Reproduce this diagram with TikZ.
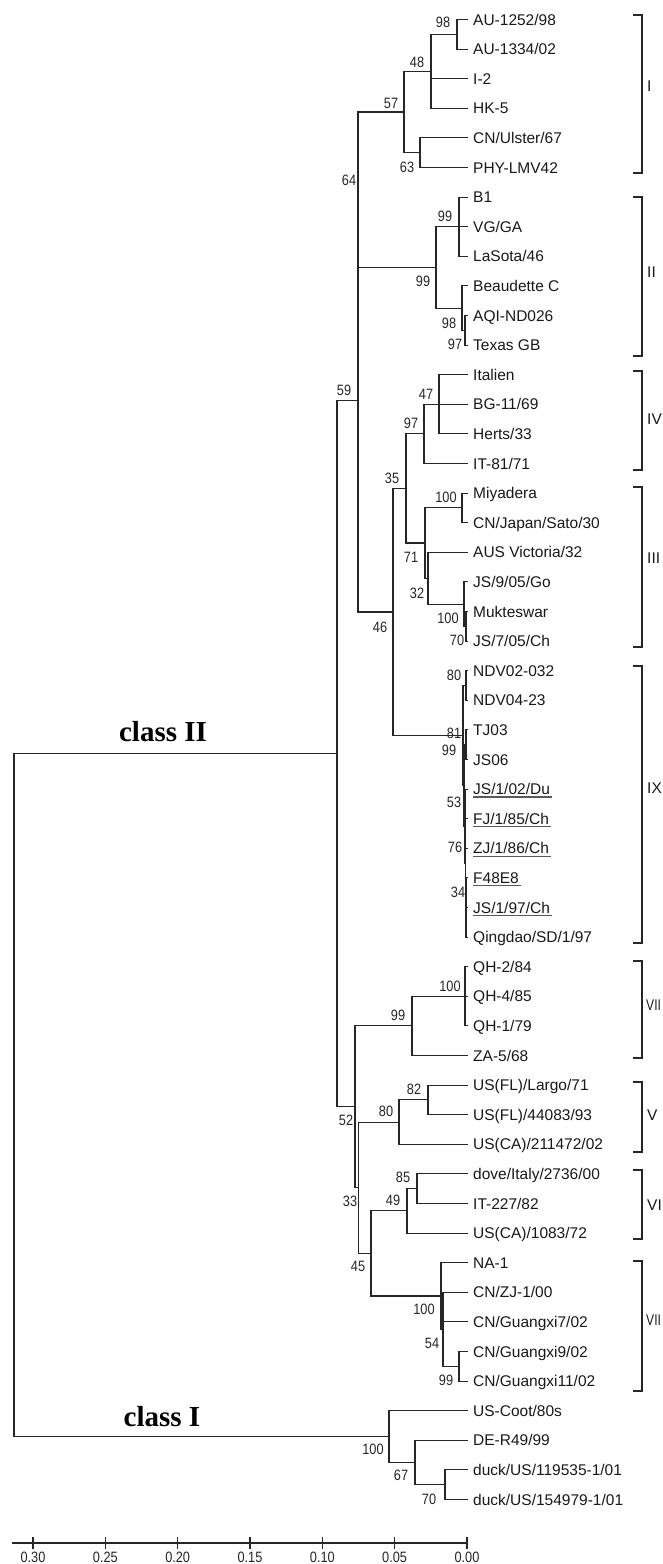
\documentclass[tikz,border=0pt]{standalone}
\usepackage{fontspec}
\setmainfont{Liberation Sans}
\newfontfamily\bsfont[FakeStretch=0.85]{Liberation Sans}
\newfontfamily\nrfont[FakeStretch=0.78]{Liberation Sans}
\newfontfamily\clsfont{Liberation Serif}
\tikzset{
 br/.style={draw=black!85, line width=1.15pt, line cap=rect},
 leaf/.style={anchor=base west, inner sep=0pt, font=\fontsize{15.5}{18}\selectfont, text=black!90},
 bs/.style={inner sep=0pt, font=\bsfont\fontsize{15}{18}\selectfont, text=black!85},
 grp/.style={anchor=west, inner sep=0pt, font=\fontsize{15.5}{18}\selectfont, text=black!90},
 grpn/.style={anchor=west, inner sep=0pt, font=\nrfont\fontsize{15.5}{18}\selectfont, text=black!90},
 brk/.style={draw=black!85, line width=1.15pt},
 cls/.style={inner sep=0pt, font=\clsfont\bfseries\fontsize{29}{32}\selectfont},
 uline/.style={draw=black!65, line width=1.1pt},
}
\newcommand\clade[4]{\draw[br] (#1|-#2) -- (#1|-#3);\foreach \c in {#4}{\draw[br] (#1|-\c) -- (\c);}}
\begin{document}
\begin{tikzpicture}[x=1pt,y=-1pt]
\useasboundingbox (0,0) rectangle (662,1564);
\clip (0,0) rectangle (662,1564);
\fill[white] (0,0) rectangle (662,1564);
% leaves
\foreach \n [count=\i from 0] in {AU-1252/98,AU-1334/02,I-2,HK-5,CN/Ulster/67,PHY-LMV42,B1,VG/GA,LaSota/46,Beaudette C,AQI-ND026,Texas GB,Italien,BG-11/69,Herts/33,IT-81/71,Miyadera,CN/Japan/Sato/30,AUS Victoria/32,JS/9/05/Go,Mukteswar,JS/7/05/Ch,NDV02-032,NDV04-23,TJ03,JS06,JS/1/02/Du,FJ/1/85/Ch,ZJ/1/86/Ch,F48E8,JS/1/97/Ch,Qingdao/SD/1/97,QH-2/84,QH-4/85,QH-1/79,ZA-5/68,US(FL)/Largo/71,US(FL)/44083/93,US(CA)/211472/02,dove/Italy/2736/00,IT-227/82,US(CA)/1083/72,NA-1,CN/ZJ-1/00,CN/Guangxi7/02,CN/Guangxi9/02,CN/Guangxi11/02,US-Coot/80s,DE-R49/99,duck/US/119535-1/01,duck/US/154979-1/01}{
  \coordinate (T\i) at (467,{19.5+29.6*\i});
  \node[leaf] (L\i) at (473,{25+29.6*\i}) {\n};
}
\foreach \i in {26,...,30}{\draw[uline] ([yshift=-2.4pt]L\i.base west) -- ([yshift=-2.4pt,xshift=1.5pt]L\i.base east);}
% internal nodes
\coordinate (nA) at (457,34.3);
\coordinate (nB) at (431,71.3);
\coordinate (nC) at (420,152.7);
\coordinate (nD) at (404,112);
\coordinate (nE) at (459,226.7);
\coordinate (nF) at (465,330.3);
\coordinate (nG) at (462,308.1);
\coordinate (nH) at (436,267.4);
\coordinate (nI) at (358,189.7);
\coordinate (nJ) at (439,404.3);
\coordinate (nK) at (424,433.9);
\coordinate (nL) at (462,507.9);
\coordinate (nM) at (466,626.3);
\coordinate (nN) at (464,604.1);
\coordinate (nO) at (428,578.2);
\coordinate (nP) at (425,543.05);
\coordinate (nQ) at (406,488.5);
\coordinate (nR) at (466,685.5);
\coordinate (nS) at (466,744.7);
\coordinate (nT) at (466,907.5);
\coordinate (nU) at (465.5,863.1);
\coordinate (nV) at (465,826.1);
\coordinate (nW) at (464,785.4);
\coordinate (nX) at (463,735.45);
\coordinate (nY) at (393,612);
\coordinate (nZ) at (358,400.85);
\coordinate (m1) at (465,996.3);
\coordinate (m2) at (412,1025.9);
\coordinate (m3) at (428,1099.9);
\coordinate (m4) at (399,1122.1);
\coordinate (m5) at (417,1188.7);
\coordinate (m6) at (407,1210.9);
\coordinate (m7) at (459,1366.3);
\coordinate (m8) at (443,1329.3);
\coordinate (m9) at (441,1296);
\coordinate (m10) at (371,1253.45);
\coordinate (m11) at (358.5,1187.8);
\coordinate (m12) at (355,1106.85);
\coordinate (c2) at (337,753.85);
\coordinate (k1) at (445,1484.7);
\coordinate (k2) at (415,1462.5);
\coordinate (k3) at (389,1436.6);
\coordinate (rt) at (14,1095.2);
% branches
\clade{nA}{T0}{T1}{T0,T1}
\clade{nB}{nA}{T3}{nA,T2,T3}
\clade{nC}{T4}{T5}{T4,T5}
\clade{nD}{nB}{nC}{nB,nC}
\clade{nE}{T6}{T8}{T6,T7,T8}
\clade{nF}{T10}{T11}{T10,T11}
\clade{nG}{T9}{nF}{T9,nF}
\clade{nH}{nE}{nG}{nE,nG}
\clade{nI}{nD}{nH}{nD,nH}
\clade{nJ}{T12}{T14}{T12,T13,T14}
\clade{nK}{nJ}{T15}{nJ,T15}
\clade{nL}{T16}{T17}{T16,T17}
\clade{nM}{T20}{T21}{T20,T21}
\clade{nN}{T19}{nM}{T19,nM}
\clade{nO}{T18}{nN}{T18,nN}
\clade{nP}{nL}{nO}{nL,nO}
\clade{nQ}{nK}{nP}{nK,nP}
\clade{nR}{T22}{T23}{T22,T23}
\clade{nS}{T24}{T25}{T24,T25}
\clade{nT}{T29}{T31}{T29,T30,T31}
\clade{nU}{T27}{nT}{T27,T28,nT}
\clade{nV}{T26}{nU}{T26,nU}
\clade{nW}{nS}{nV}{nS,nV}
\clade{nX}{nR}{nW}{nR,nW}
\clade{nY}{nQ}{nX}{nQ,nX}
\clade{nZ}{nI}{nY}{nI,nY}
\clade{m1}{T32}{T34}{T32,T33,T34}
\clade{m2}{m1}{T35}{m1,T35}
\clade{m3}{T36}{T37}{T36,T37}
\clade{m4}{m3}{T38}{m3,T38}
\clade{m5}{T39}{T40}{T39,T40}
\clade{m6}{m5}{T41}{m5,T41}
\clade{m7}{T45}{T46}{T45,T46}
\clade{m8}{T43}{m7}{T43,T44,m7}
\clade{m9}{T42}{m8}{T42,m8}
\clade{m10}{m6}{m9}{m6,m9}
\clade{m11}{m4}{m10}{m4,m10}
\clade{m12}{m2}{m11}{m2,m11}
\clade{c2}{nZ}{m12}{nZ,m12}
\clade{k1}{T49}{T50}{T49,T50}
\clade{k2}{T48}{k1}{T48,k1}
\clade{k3}{T47}{k2}{T47,k2}
\clade{rt}{c2}{k3}{c2,k3}
% bootstrap values
\foreach \x/\y/\t [count=\j] in {443/22/98,417/62/48,391/103/57,407/167/63,349/180/64,445/216/99,423/281/99,449/323/98,455/344/97,344/390/59,426/394/47,411/423/97,392/478/35,446/497/100,411/557/71,417/593/32,448/618/100,457/640/70,380/627/46,454/675/80,454/733/81,449/750/99,454/802/53,455/847/76,458/892/34,450/986/100,398/1015/99,414/1089/82,386/1111/80,346/1120/52,403/1177/85,393/1200/49,350/1201/33,358/1266/45,424/1309/100,432/1343/54,446/1380/99,373/1449/100,401/1475/67,429/1499/70}{
  \node[bs] (b\j) at (\x,\y) {\t};
}
% group brackets
\foreach \a/\b/\m/\t [count=\j] in {15/173/86/I,197/356/272/II,371/470/419/IV,487/647/558/III,666/943/788/IX,1082/1152/1115/V,1170/1239/1205/VI}{
  \draw[brk] (633,\a) -- (642,\a) -- (642,\b) -- (633,\b);
  \node[grp] (g\j) at (647,\m) {\t};
}
\foreach \a/\b/\m/\t [count=\j] in {961/1058/1005/VII,1261/1391/1320/VII}{
  \draw[brk] (633,\a) -- (642,\a) -- (642,\b) -- (633,\b);
  \node[grpn] (h\j) at (646,\m) {\t};
}
% class labels
\node[cls] (cII) at (163,732) {class II};
\node[cls] (cI) at (162,1417) {class I};
% scale bar
\draw[br] (13,1543) -- (467,1543);
\foreach \t [count=\k from 0] in {0.30,0.25,0.20,0.15,0.10,0.05,0.00}{
  \draw[br] ({33+72.33*\k},1538) -- ({33+72.33*\k},1548);
  \node[bs] (s\k) at ({33+72.33*\k},1557) {\t};
}
\end{tikzpicture}
\end{document}
